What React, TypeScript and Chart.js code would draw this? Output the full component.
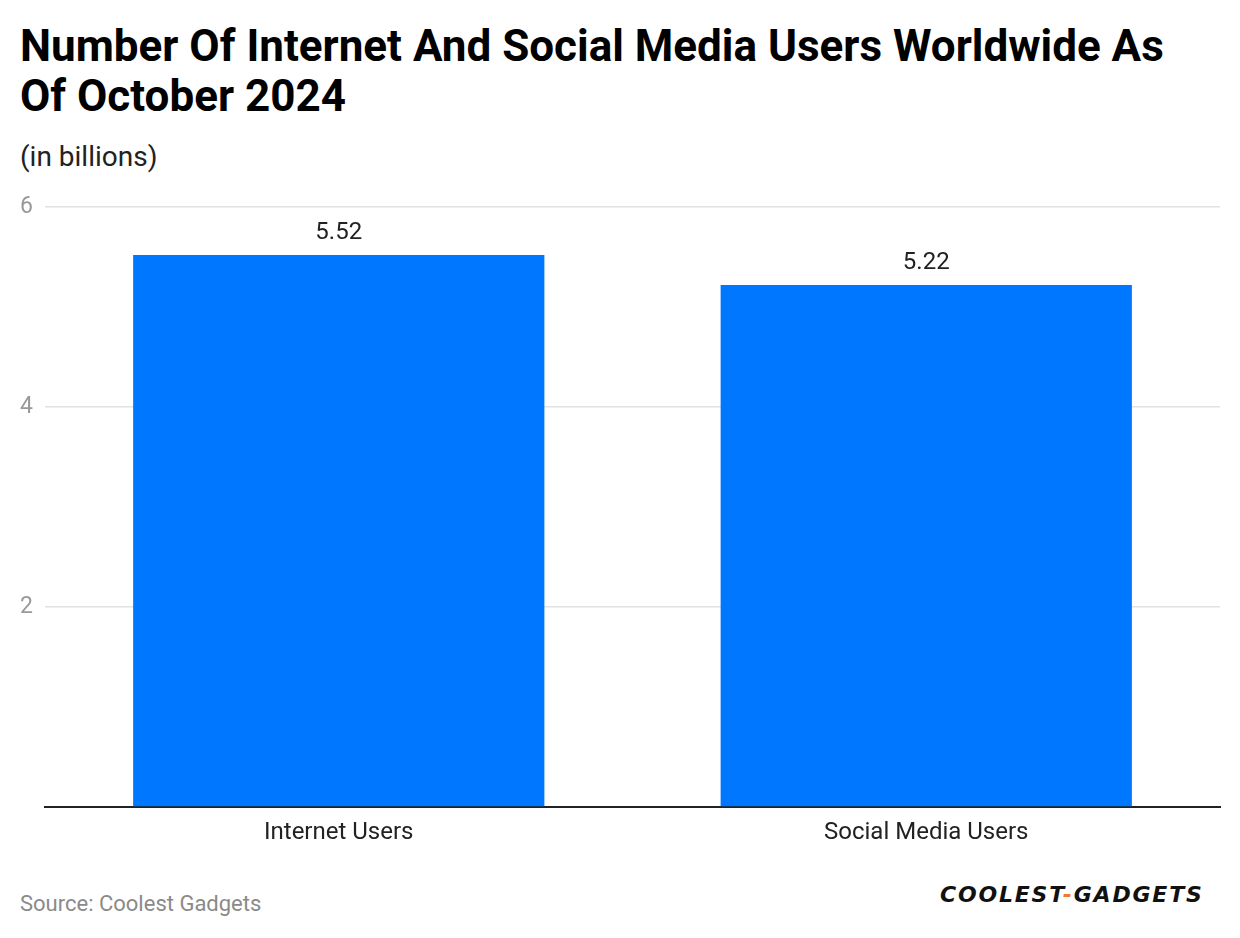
import React, { useEffect, useRef } from "react";
import { Chart, registerables } from "chart.js";

Chart.register(...registerables);

const categories = ["Internet Users", "Social Media Users"];
const values = [5.52, 5.22];
const yTicks = [0, 2, 4, 6];

const titleText = "Number Of Internet And Social Media Users Worldwide As Of October 2024";
const subtitleText = "(in billions)";
const sourceText = "Source: Coolest Gadgets";

const FONT = "Roboto, 'Noto Sans', sans-serif";

export default function App() {
  const canvasRef = useRef<HTMLCanvasElement | null>(null);

  useEffect(() => {
    document.body.style.margin = "0";
    const ctx = canvasRef.current!.getContext("2d")!;
    const labelPlugin = {
      id: "barLabels",
      afterDatasetsDraw(chart: any) {
        const c = chart.ctx;
        const meta = chart.getDatasetMeta(0);
        c.save();
        c.font = `24px ${FONT}`;
        c.fillStyle = "#222";
        c.textAlign = "center";
        c.textBaseline = "middle";
        meta.data.forEach((bar: any, i: number) => {
          c.fillText(values[i].toFixed(2), bar.x, bar.y - 22);
        });
        c.restore();
      },
    };
    const chart = new Chart(ctx, {
      type: "bar",
      data: {
        labels: categories,
        datasets: [
          {
            data: values,
            backgroundColor: "#0077FF",
            borderWidth: 0,
            categoryPercentage: 0.7,
            barPercentage: 1,
          },
        ],
      },
      options: {
        animation: false,
        responsive: false,
        maintainAspectRatio: false,
        layout: { padding: { top: 17, right: 20, left: 0, bottom: 0 } },
        plugins: {
          legend: { display: false },
          tooltip: { enabled: false },
          title: { display: false },
        },
        scales: {
          x: {
            grid: { display: false, drawTicks: false },
            border: { display: true, color: "#222", width: 2 },
            ticks: {
              color: "#222",
              font: { family: FONT, size: 24 },
              padding: 12,
            },
            afterFit(scale: any) {
              scale.height = 53;
            },
          },
          y: {
            min: 0,
            max: 6,
            afterBuildTicks(scale: any) {
              scale.ticks = yTicks.map((v) => ({ value: v }));
            },
            grid: { color: "#e2e2e2", lineWidth: 1.5, drawTicks: false },
            border: { display: false },
            ticks: {
              color: "#999",
              font: { family: FONT, size: 23 },
              padding: 12,
              callback: (v: any) => (v === 0 ? "" : String(v)),
            },
            afterFit(scale: any) {
              scale.width = 45;
              scale.paddingTop = 0;
              scale.paddingBottom = 0;
            },
          },
        },
      },
      plugins: [labelPlugin],
    });
    return () => chart.destroy();
  }, []);

  return (
    <div style={{ position: "relative", width: 1240, height: 938, background: "#fff", fontFamily: FONT }}>
      <div
        style={{
          position: "absolute",
          left: 20,
          top: 21,
          width: 1180,
          fontSize: 44,
          fontWeight: 700,
          lineHeight: "50px",
          color: "#000",
        }}
      >
        {titleText}
      </div>
      <div style={{ position: "absolute", left: 20, top: 140, fontSize: 28, color: "#222" }}>{subtitleText}</div>
      <canvas
        ref={canvasRef}
        width={1240}
        height={670}
        style={{ position: "absolute", left: 0, top: 190, width: 1240, height: 670 }}
      />
      <div style={{ position: "absolute", left: 20, top: 891, fontSize: 22, color: "#8a8a8a" }}>{sourceText}</div>
      <div
        style={{
          position: "absolute",
          left: 940,
          top: 882,
          fontSize: 22,
          fontWeight: 900,
          fontStyle: "italic",
          letterSpacing: 1.8,
          color: "#111",
          fontFamily: "'DejaVu Sans', sans-serif",
        }}
      >
        COOLEST<span style={{ color: "#f07c2a" }}>-</span>GADGETS
      </div>
    </div>
  );
}
